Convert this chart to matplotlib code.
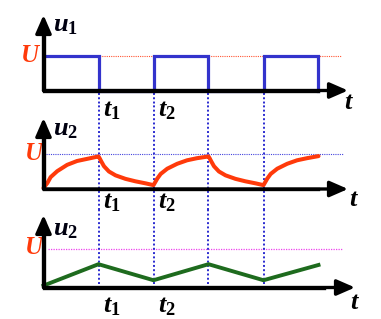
import matplotlib
matplotlib.use('Agg')
import matplotlib.pyplot as plt

plt.rcParams['mathtext.fontset'] = 'custom'
plt.rcParams['mathtext.it'] = 'Liberation Serif:italic:bold'
plt.rcParams['mathtext.rm'] = 'Liberation Serif:bold'
plt.rcParams['mathtext.bf'] = 'Liberation Serif:bold'

# ---------------- data ----------------
pulse_t = [0, 1, 1, 2, 2, 3, 3, 4, 4, 5, 5]
pulse_u = [1, 1, 0, 0, 1, 1, 0, 0, 1, 1, 0]

rc_t = [0.00, 0.07, 0.13, 0.25, 0.43, 0.61, 0.79, 1.00,
        1.02, 1.05, 1.10, 1.19, 1.31, 1.49, 1.67, 1.86, 2.00,
        2.07, 2.13, 2.25, 2.43, 2.61, 2.79, 3.00,
        3.02, 3.05, 3.10, 3.19, 3.31, 3.49, 3.67, 3.86, 4.00,
        4.07, 4.13, 4.25, 4.43, 4.61, 4.79, 5.00]
rc_u = [0.03, 0.17, 0.34, 0.51, 0.69, 0.80, 0.86, 0.93,
        0.88, 0.79, 0.65, 0.50, 0.39, 0.29, 0.22, 0.16, 0.11,
        0.30, 0.43, 0.58, 0.72, 0.82, 0.88, 0.93,
        0.88, 0.79, 0.65, 0.50, 0.39, 0.29, 0.22, 0.16, 0.11,
        0.30, 0.43, 0.58, 0.72, 0.82, 0.88, 0.94]

tri_t = [0, 1, 2, 3, 4, 5]
tri_u = [0.05, 0.61, 0.19, 0.61, 0.19, 0.59]

switch_t = [1, 2, 3, 4]
time_labels = [r'$t_1$', r'$t_2$']
volt_labels = [r'$u_1$', r'$u_2$', r'$u_2$']
level_label = 'U'
axis_label = r'$t$'

# ---------------- layout (pixels) ----------------
W, H = 381, 319
X0, PXT = 43.5, 55.0
panels = [
    dict(top=0, bot=105, axis=90.5, upx=55.5, ytip=15, xtip=348),
    dict(top=105, bot=210, axis=189, upx=154, ytip=118, xtip=348),
    dict(top=210, bot=319, axis=287.5, upx=249.3, ytip=215, xtip=355),
]

BLUE = '#3333cc'
DOT = '#2a2ad0'
RED = '#ff3a0a'
GREEN = '#1e6b1e'
ULAB = '#ff3a0a'
ref_colors = ['#ff5533', '#4444dd', '#ee44ee']

fig = plt.figure(figsize=(W / 100, H / 100), dpi=100)
axes = []
for p in panels:
    s = p['axis'] - p['upx']
    ax = fig.add_axes([0, 1 - p['bot'] / H, 1, (p['bot'] - p['top']) / H])
    ax.set_xlim(-X0 / PXT, (W - X0) / PXT)
    ax.set_ylim(-(p['bot'] - p['axis']) / s, (p['axis'] - p['top']) / s)
    ax.axis('off')
    p['s'] = s
    axes.append(ax)


def px(p, x, y):
    return (x - X0) / PXT, (p['axis'] - y) / p['s']


def draw_axes(ax, p):
    xt, _ = px(p, p['xtip'], 0)
    _, yt = px(p, 0, p['ytip'])
    ax.plot([0, 0, xt * 0.9], [yt * 0.9, 0, 0], color='black', lw=2.4,
            solid_joinstyle='miter', solid_capstyle='projecting', zorder=5)
    for tip in [(xt, 0), (0, yt)]:
        ax.annotate('', xy=tip, xytext=(0, 0),
                    arrowprops=dict(arrowstyle='-|>,head_length=0.55,head_width=0.24',
                                    lw=2.4, color='black', shrinkA=0, shrinkB=0,
                                    mutation_scale=20), zorder=5)


def labels(ax, p, i):
    x, y = px(p, 53, [24, 128, 228.5][i])
    ax.text(x, y, volt_labels[i], fontsize=19, ha='left', va='center', color='#000010')
    x, y = px(p, [30, 34, 34][i], [55, 154, 247][i])
    ax.text(x, y, level_label, fontsize=18, ha='center', va='center',
            color=ULAB, family='Liberation Serif', style='italic', weight='bold')
    x, y = px(p, [349, 354, 355][i], [102, 199, 302][i])
    ax.text(x, y, axis_label, fontsize=19, ha='center', va='center', color='black')
    yc = [109, 201, 305][i]
    for k, lab in enumerate(time_labels):
        x, y = px(p, [103, 158][k], yc)
        ax.text(x, y, lab, fontsize=19, ha='left', va='center', color='black')


# panel 1
ax, p = axes[0], panels[0]
ax.plot([0, 5.4], [1, 1], color=ref_colors[0], lw=0.8, ls=(0, (1, 1)), zorder=1)
ax.plot(pulse_t, pulse_u, color=BLUE, lw=2.3, solid_joinstyle='miter', zorder=4)
ylo = ax.get_ylim()[0]
for t in switch_t:
    ax.plot([t, t], [-0.07, ylo], color=DOT, lw=1.4, ls=(0, (1, 1.2)), zorder=2)
draw_axes(ax, p)
labels(ax, p, 0)

# panel 2
ax, p = axes[1], panels[1]
ax.plot([0.05, 5.45], [1, 1], color=ref_colors[1], lw=0.8, ls=(0, (1, 1)), zorder=1)
ylo, yhi = ax.get_ylim()
for t in switch_t:
    ax.plot([t, t], [ylo, yhi], color=DOT, lw=1.4, ls=(0, (1, 1.2)), zorder=2)
ax.plot(rc_t, rc_u, color=RED, lw=2.9, solid_joinstyle='round', solid_capstyle='round', zorder=4)
draw_axes(ax, p)
labels(ax, p, 1)

# panel 3
ax, p = axes[2], panels[2]
ax.plot([0.08, 5.45], [1, 1], color=ref_colors[2], lw=0.9, ls=(0, (1, 1)), zorder=1)
yhi = ax.get_ylim()[1]
for t in switch_t:
    ax.plot([t, t], [0.1, yhi], color=DOT, lw=1.4, ls=(0, (1, 1.2)), zorder=2)
ax.plot(tri_t, tri_u, color=GREEN, lw=2.8, solid_joinstyle='miter', zorder=4)
draw_axes(ax, p)
labels(ax, p, 2)

fig.savefig('out.png', dpi=100)
